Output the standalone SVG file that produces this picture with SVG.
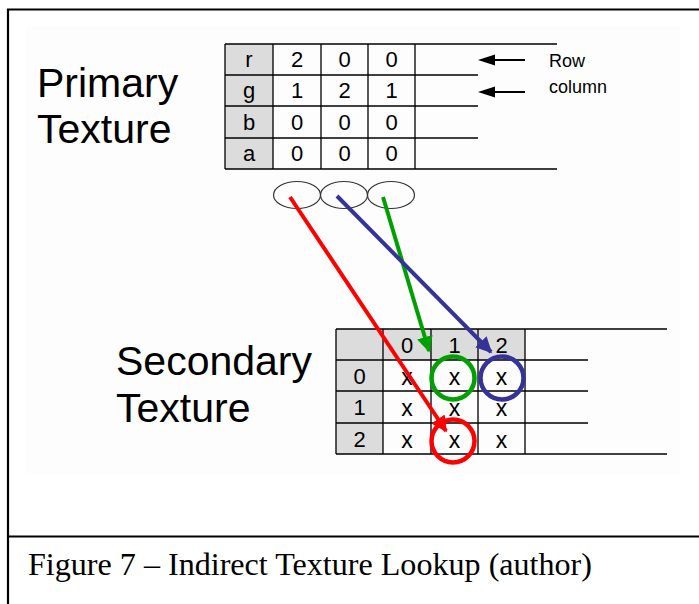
<svg xmlns="http://www.w3.org/2000/svg" width="699" height="604" viewBox="0 0 699 604">
  <style>
    .sans { font-family: "Liberation Sans", Arial, sans-serif; fill: #000; }
    .label { font-size: 41px; }
    .cell { font-size: 22px; text-anchor: middle; }
    .xs { font-size: 23px; }
    .note { font-size: 18px; }
    .grid { stroke: #000; stroke-width: 1.3; fill: none; }
    .hdr { fill: #dcdcdc; }
    .caption { font-family: "Liberation Serif", "Times New Roman", serif; font-size: 32px; fill: #000; }
  </style>
  <defs>
    <marker id="ahRed" viewBox="0 0 10 10" refX="9" refY="5" markerWidth="4" markerHeight="4" markerUnits="strokeWidth" orient="auto">
      <path d="M0,0 L10,5 L0,10 Z" fill="#ff0000"/>
    </marker>
    <marker id="ahGreen" viewBox="0 0 10 10" refX="9" refY="5" markerWidth="4" markerHeight="4" markerUnits="strokeWidth" orient="auto">
      <path d="M0,0 L10,5 L0,10 Z" fill="#00a000"/>
    </marker>
    <marker id="ahBlue" viewBox="0 0 10 10" refX="9" refY="5" markerWidth="4" markerHeight="4" markerUnits="strokeWidth" orient="auto">
      <path d="M0,0 L10,5 L0,10 Z" fill="#333399"/>
    </marker>
  </defs>

  <rect width="699" height="604" fill="#fff"/>
  <!-- frame -->
  <rect x="25" y="25" width="655" height="450" fill="#fdfdfd"/>
  <path d="M8,604 V9.5 H699" fill="none" stroke="#000" stroke-width="2.2"/>
  <line x1="8" y1="536.5" x2="699" y2="536.5" stroke="#000" stroke-width="2.2"/>

  <!-- primary texture -->
  <g id="primary-label">
    <text class="sans label" x="37" y="97">Primary</text>
    <text class="sans label" x="37" y="143">Texture</text>
  </g>
  <g id="primary-table">
    <rect class="hdr" x="225" y="44" width="48" height="125"/>
    <path class="grid" d="M225,44 H557 M225,75 H478 M225,106 H478 M225,138 H478 M225,169 H557 M225,44 V169 M273,44 V169 M321,44 V169 M368,44 V169 M415,44 V169"/>
    <g class="sans cell">
      <text x="249" y="67">r</text><text x="297" y="67">2</text><text x="344.5" y="67">0</text><text x="391.5" y="67">0</text>
      <text x="249" y="98">g</text><text x="297" y="98">1</text><text x="344.5" y="98">2</text><text x="391.5" y="98">1</text>
      <text x="249" y="130">b</text><text x="297" y="130">0</text><text x="344.5" y="130">0</text><text x="391.5" y="130">0</text>
      <text x="249" y="161">a</text><text x="297" y="161">0</text><text x="344.5" y="161">0</text><text x="391.5" y="161">0</text>
    </g>
  </g>
  <g id="row-column-note">
    <line x1="525" y1="60" x2="492" y2="60" stroke="#000" stroke-width="2"/>
    <polygon points="478,60 495,54.5 495,65.5" fill="#000"/>
    <line x1="525" y1="92" x2="492" y2="92" stroke="#000" stroke-width="2"/>
    <polygon points="478,92 495,86.5 495,97.5" fill="#000"/>
    <text class="sans note" x="549" y="67">Row</text>
    <text class="sans note" x="549" y="93">column</text>
  </g>

  <!-- lookup slots -->
  <g id="slots" fill="none" stroke="#333" stroke-width="1.2">
    <ellipse cx="297" cy="195" rx="23.5" ry="13.5"/>
    <ellipse cx="344" cy="195" rx="23.5" ry="13.5"/>
    <ellipse cx="391" cy="195" rx="23.5" ry="13.5"/>
  </g>

  <!-- secondary texture -->
  <g id="secondary-label">
    <text class="sans label" x="116" y="375">Secondary</text>
    <text class="sans label" x="116" y="422">Texture</text>
  </g>
  <g id="secondary-table">
    <rect class="hdr" x="336" y="329" width="189" height="31"/>
    <rect class="hdr" x="336" y="329" width="47" height="125"/>
    <path class="grid" d="M336,329 H667 M336,360 H588 M336,391 H588 M336,423 H588 M336,454 H667 M336,329 V454 M383,329 V454 M431,329 V454 M478,329 V454 M525,329 V454"/>
    <g class="sans cell">
      <text x="407" y="353">0</text><text x="454.5" y="353">1</text><text x="501.5" y="353">2</text>
      <text x="359.5" y="384">0</text><text x="359.5" y="415">1</text><text x="359.5" y="447">2</text>
      <g class="xs">
        <text x="407" y="385">x</text><text x="454.5" y="385">x</text><text x="501.5" y="385">x</text>
        <text x="407" y="416">x</text><text x="454.5" y="416">x</text><text x="501.5" y="416">x</text>
        <text x="407" y="448">x</text><text x="454.5" y="448">x</text><text x="501.5" y="448">x</text>
      </g>
    </g>
  </g>

  <!-- connectors -->
  <g id="connectors" fill="none" stroke-width="4">
    <line x1="290" y1="197" x2="446" y2="431" stroke="#ff0000" marker-end="url(#ahRed)"/>
    <line x1="383" y1="197" x2="429" y2="351" stroke="#00a000" marker-end="url(#ahGreen)"/>
    <line x1="337" y1="196" x2="491" y2="352" stroke="#333399" marker-end="url(#ahBlue)"/>
  </g>

  <!-- selected texels -->
  <g id="hits" fill="none" stroke-width="4.5">
    <circle cx="453" cy="378" r="21.5" stroke="#00a000"/>
    <circle cx="502" cy="378" r="21.5" stroke="#333399"/>
    <circle cx="453" cy="441" r="21.5" stroke="#ff0000"/>
  </g>

  <!-- caption -->
  <text class="caption" x="28" y="575" textLength="564" lengthAdjust="spacingAndGlyphs">Figure 7 – Indirect Texture Lookup (author)</text>
</svg>
